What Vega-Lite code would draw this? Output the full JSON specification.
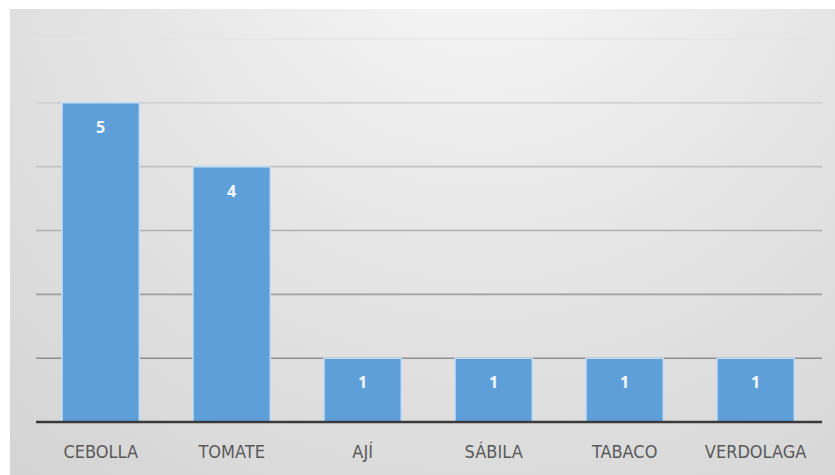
{
  "$schema": "https://vega.github.io/schema/vega-lite/v6.json",
  "width": 825,
  "height": 466,
  "autosize": {"type": "none"},
  "padding": {"left": 10, "top": 9, "right": 0, "bottom": 0},
  "background": "#ffffff",
  "config": {
    "view": {
      "stroke": null,
      "fill": {
        "gradient": "radial",
        "x1": 0.57, "y1": 0.08, "r1": 0,
        "x2": 0.57, "y2": 0.08, "r2": 0.95,
        "stops": [
          {"offset": 0, "color": "#f9f9f9"},
          {"offset": 0.55, "color": "#e2e2e2"},
          {"offset": 1, "color": "#d2d2d2"}
        ]
      }
    }
  },
  "data": {
    "values": [
      {"cultivo": "CEBOLLA", "cantidad": 5},
      {"cultivo": "TOMATE", "cantidad": 4},
      {"cultivo": "AJÍ", "cantidad": 1},
      {"cultivo": "SÁBILA", "cantidad": 1},
      {"cultivo": "TABACO", "cantidad": 1},
      {"cultivo": "VERDOLAGA", "cantidad": 1}
    ]
  },
  "layer": [
    {
      "data": {"values": [{"g": 1}, {"g": 2}, {"g": 3}, {"g": 4}, {"g": 5}, {"g": 6}]},
      "mark": {"type": "rule", "strokeWidth": 1.6, "xOffset": -64.6, "x2Offset": 66.4},
      "encoding": {
        "x": {"datum": "CEBOLLA", "type": "nominal", "title": null},
        "x2": {"datum": "VERDOLAGA"},
        "y": {"field": "g", "type": "quantitative", "axis": null, "title": null},
        "color": {
          "field": "g",
          "type": "quantitative",
          "scale": {"domain": [1, 6], "range": ["#8e8e8e", "#e4e4e4"]},
          "legend": null
        }
      }
    },
    {
      "mark": {"type": "bar", "color": "#5f9fd9", "stroke": "#c2ddf3", "strokeWidth": 1.5},
      "encoding": {
        "x": {
          "field": "cultivo",
          "type": "nominal",
          "scale": {
            "type": "band",
            "domain": ["CEBOLLA", "TOMATE", "AJÍ", "SÁBILA", "TABACO", "VERDOLAGA"],
            "paddingInner": 0.41,
            "paddingOuter": 0.354,
            "align": 0.561
          },
          "axis": {
            "title": null,
            "labelAngle": 0,
            "labelAlign": "center",
            "ticks": false,
            "domain": false,
            "grid": false,
            "offset": -53,
            "labelPadding": 30,
            "labelBaseline": "middle",
            "labelFont": "DejaVu Sans Condensed, Liberation Sans Narrow, Liberation Sans",
            "labelFontSize": 18,
            "labelColor": "#595959"
          }
        },
        "y": {
          "field": "cantidad",
          "type": "quantitative",
          "stack": null,
          "scale": {"domain": [-0.83, 6.47], "nice": false, "zero": false},
          "axis": null
        },
        "y2": {"datum": 0}
      }
    },
    {
      "data": {"values": [{"base": 0}]},
      "mark": {"type": "rule", "color": "#3a3a3a", "strokeWidth": 2.5, "xOffset": -64.6, "x2Offset": 66.4},
      "encoding": {
        "x": {"datum": "CEBOLLA", "type": "nominal", "title": null},
        "x2": {"datum": "VERDOLAGA"},
        "y": {"field": "base", "type": "quantitative", "axis": null, "title": null}
      }
    },
    {
      "mark": {
        "type": "text",
        "baseline": "middle",
        "dy": 25,
        "font": "Open Sans",
        "fontWeight": "bold",
        "fontSize": 16,
        "color": "#f2f8ff"
      },
      "encoding": {
        "x": {"field": "cultivo", "type": "nominal", "title": null},
        "y": {"field": "cantidad", "type": "quantitative", "axis": null, "title": null},
        "text": {"field": "cantidad", "type": "quantitative"}
      }
    }
  ]
}
